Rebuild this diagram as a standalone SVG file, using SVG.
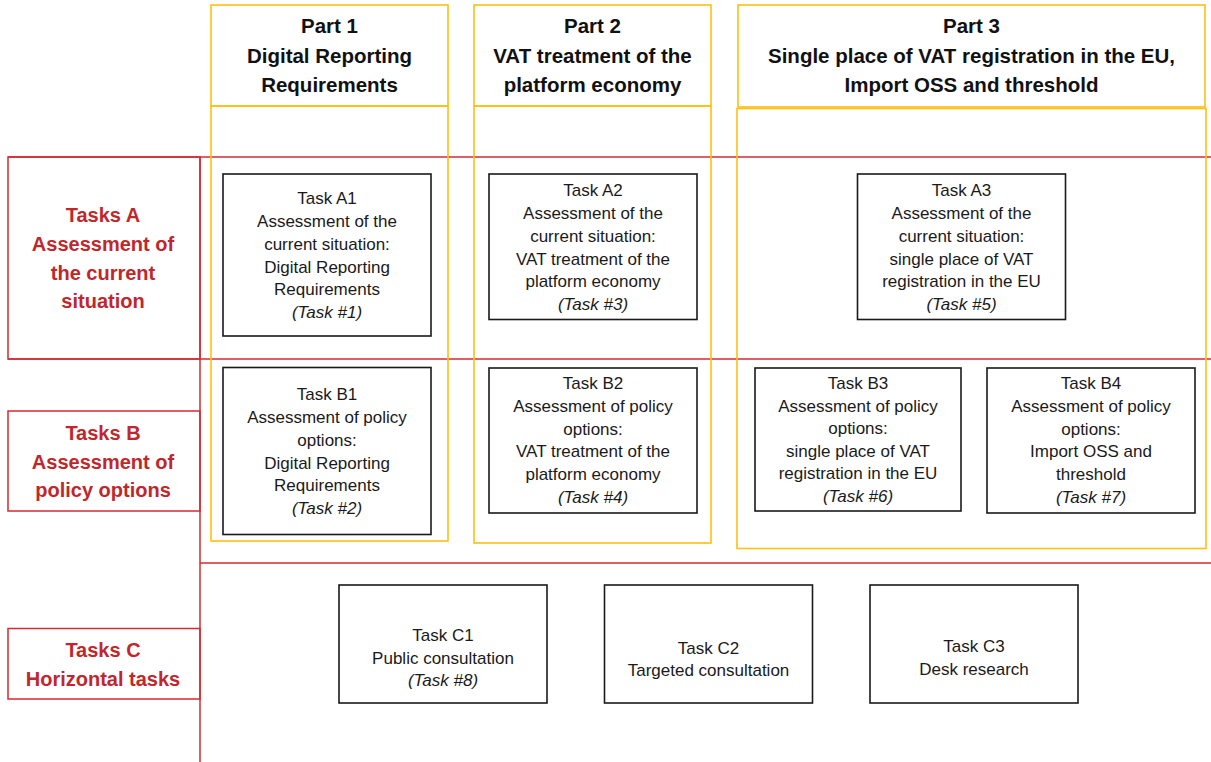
<svg xmlns="http://www.w3.org/2000/svg" width="1211" height="762" viewBox="0 0 1211 762">
<style>
.bg{fill:#ffffff}
.red{fill:none;stroke:#D42A30;stroke-width:1.5}
.yel{fill:none;stroke:#FFC012;stroke-width:1.6}
.box{fill:#ffffff;stroke:#1a1a1a;stroke-width:1.6}
.hdr{font-family:"Liberation Sans",Arial,sans-serif;font-size:20.5px;font-weight:bold;fill:#111;text-anchor:middle}
.lbl{font-family:"Liberation Sans",Arial,sans-serif;font-size:20px;font-weight:bold;fill:#C0272D;text-anchor:middle}
.t{font-family:"Liberation Sans",Arial,sans-serif;font-size:17px;fill:#1a1a1a;text-anchor:middle}
.i{font-style:italic}
</style>
<rect class="bg" x="0" y="0" width="1211" height="762"/>

<g id="lines">
  <line class="red" x1="8" y1="157" x2="1211" y2="157"/>
  <line class="red" x1="8" y1="359" x2="1211" y2="359"/>
  <line class="red" x1="200" y1="563" x2="1211" y2="563"/>
  <line class="red" x1="200" y1="157" x2="200" y2="762"/>
</g>

<g id="row-a">
  <rect class="red" x="8" y="157" width="192" height="202"/>
  <text class="lbl" x="103"><tspan x="103" y="222">Tasks A</tspan><tspan x="103" y="251">Assessment of</tspan><tspan x="103" y="280">the current</tspan><tspan x="103" y="308">situation</tspan></text>
</g>
<g id="row-b">
  <rect class="red" x="8" y="411" width="192" height="100"/>
  <text class="lbl"><tspan x="103" y="440">Tasks B</tspan><tspan x="103" y="468.5">Assessment of</tspan><tspan x="103" y="497">policy options</tspan></text>
</g>
<g id="row-c">
  <rect class="red" x="8" y="628.5" width="192" height="70.5"/>
  <text class="lbl"><tspan x="103" y="657">Tasks C</tspan><tspan x="103" y="686">Horizontal tasks</tspan></text>
</g>

<g id="part1">
  <rect class="yel" x="211" y="5" width="237" height="101"/>
  <rect class="yel" x="211" y="106" width="237" height="435"/>
  <text class="hdr"><tspan x="329.5" y="33">Part 1</tspan><tspan x="329.5" y="62.5">Digital Reporting</tspan><tspan x="329.5" y="91.5">Requirements</tspan></text>
</g>
<g id="part2">
  <rect class="yel" x="474" y="5" width="237" height="101"/>
  <rect class="yel" x="474" y="106" width="237" height="437"/>
  <text class="hdr"><tspan x="592.5" y="33">Part 2</tspan><tspan x="592.5" y="62.5">VAT treatment of the</tspan><tspan x="592.5" y="91.5">platform economy</tspan></text>
</g>
<g id="part3">
  <rect class="yel" x="738" y="5" width="467" height="102"/>
  <rect class="yel" x="737" y="108.5" width="469" height="440"/>
  <text class="hdr"><tspan x="971.5" y="33">Part 3</tspan><tspan x="971.5" y="62.5">Single place of VAT registration in the EU,</tspan><tspan x="971.5" y="91.5">Import OSS and threshold</tspan></text>
</g>

<g id="task-a1">
  <rect class="box" x="223" y="174" width="208" height="162"/>
  <text class="t"><tspan x="327" y="204">Task A1</tspan><tspan x="327" y="227">Assessment of the</tspan><tspan x="327" y="250">current situation:</tspan><tspan x="327" y="272.5">Digital Reporting</tspan><tspan x="327" y="295">Requirements</tspan><tspan class="i" x="327" y="318">(Task #1)</tspan></text>
</g>
<g id="task-a2">
  <rect class="box" x="489" y="174" width="208" height="145.5"/>
  <text class="t"><tspan x="593" y="196">Task A2</tspan><tspan x="593" y="219">Assessment of the</tspan><tspan x="593" y="241.5">current situation:</tspan><tspan x="593" y="264.5">VAT treatment of the</tspan><tspan x="593" y="287">platform economy</tspan><tspan class="i" x="593" y="310">(Task #3)</tspan></text>
</g>
<g id="task-a3">
  <rect class="box" x="857.5" y="174" width="208" height="145.5"/>
  <text class="t"><tspan x="961.5" y="196">Task A3</tspan><tspan x="961.5" y="219">Assessment of the</tspan><tspan x="961.5" y="241.5">current situation:</tspan><tspan x="961.5" y="264.5">single place of VAT</tspan><tspan x="961.5" y="287">registration in the EU</tspan><tspan class="i" x="961.5" y="310">(Task #5)</tspan></text>
</g>

<g id="task-b1">
  <rect class="box" x="223" y="367.5" width="208" height="167"/>
  <text class="t"><tspan x="327" y="400">Task B1</tspan><tspan x="327" y="423">Assessment of policy</tspan><tspan x="327" y="446">options:</tspan><tspan x="327" y="468.5">Digital Reporting</tspan><tspan x="327" y="491">Requirements</tspan><tspan class="i" x="327" y="513.5">(Task #2)</tspan></text>
</g>
<g id="task-b2">
  <rect class="box" x="489" y="368" width="208" height="145"/>
  <text class="t"><tspan x="593" y="389">Task B2</tspan><tspan x="593" y="412">Assessment of policy</tspan><tspan x="593" y="434.5">options:</tspan><tspan x="593" y="457">VAT treatment of the</tspan><tspan x="593" y="480">platform economy</tspan><tspan class="i" x="593" y="502.5">(Task #4)</tspan></text>
</g>
<g id="task-b3">
  <rect class="box" x="755" y="368" width="206" height="143"/>
  <text class="t"><tspan x="858" y="388.5">Task B3</tspan><tspan x="858" y="411.5">Assessment of policy</tspan><tspan x="858" y="434">options:</tspan><tspan x="858" y="456.5">single place of VAT</tspan><tspan x="858" y="479">registration in the EU</tspan><tspan class="i" x="858" y="502">(Task #6)</tspan></text>
</g>
<g id="task-b4">
  <rect class="box" x="987" y="368" width="208" height="145"/>
  <text class="t"><tspan x="1091" y="389">Task B4</tspan><tspan x="1091" y="412">Assessment of policy</tspan><tspan x="1091" y="434.5">options:</tspan><tspan x="1091" y="457">Import OSS and</tspan><tspan x="1091" y="480">threshold</tspan><tspan class="i" x="1091" y="503">(Task #7)</tspan></text>
</g>

<g id="task-c1">
  <rect class="box" x="339" y="585" width="208" height="118"/>
  <text class="t"><tspan x="443" y="641">Task C1</tspan><tspan x="443" y="663.5">Public consultation</tspan><tspan class="i" x="443" y="685.5">(Task #8)</tspan></text>
</g>
<g id="task-c2">
  <rect class="box" x="604.5" y="585" width="208" height="118"/>
  <text class="t"><tspan x="708.5" y="653.5">Task C2</tspan><tspan x="708.5" y="676">Targeted consultation</tspan></text>
</g>
<g id="task-c3">
  <rect class="box" x="870" y="585" width="208" height="118"/>
  <text class="t"><tspan x="974" y="652">Task C3</tspan><tspan x="974" y="675">Desk research</tspan></text>
</g>
</svg>
